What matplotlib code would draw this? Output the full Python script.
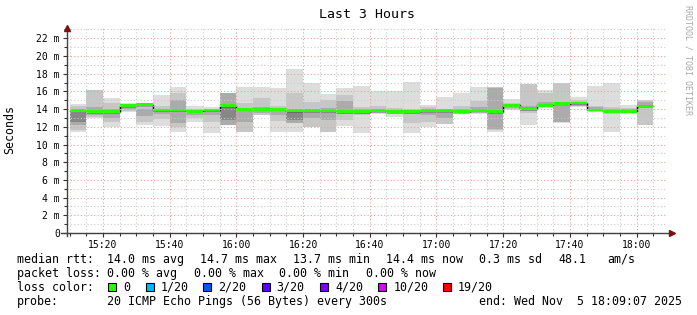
import numpy as np
import matplotlib
matplotlib.use('Agg')
import matplotlib.pyplot as plt
from matplotlib.ticker import MultipleLocator, FuncFormatter

# Данные: 5-минутные интервалы, начало первого интервала 15:10
t_first = 15 * 60 + 10  # минуты от полуночи
step = 5
# задержка, мс: мин/макс (светлый дым), средняя полоса, внутренняя полоса, медиана
rtt_min = [11.45, 13.0, 12.0, 13.7, 12.2, 12.1, 11.45, 12.6, 11.3, 12.2, 11.45, 13.3, 11.45, 11.45, 12.0,
           11.45, 12.1, 11.3, 13.5, 13.1, 11.3, 12.0, 12.3, 13.5, 13.5, 11.45, 13.9, 12.2, 14.1, 12.4,
           14.2, 13.9, 11.45, 13.45, 12.2]
rtt_max = [14.6, 16.2, 15.3, 14.7, 14.7, 15.6, 16.5, 14.35, 14.2, 15.8, 16.5, 16.5, 16.35, 18.5, 16.9,
           15.7, 16.35, 16.6, 16.0, 16.1, 17.1, 14.45, 15.4, 15.85, 16.5, 16.5, 15.1, 16.8, 16.2, 16.9,
           15.4, 16.6, 17.0, 14.45, 15.0]
mid_lo = [11.6, 13.1, 12.6, 13.8, 12.6, 12.9, 12.0, 13.0, 12.5, 12.2, 11.45, 13.3, 12.7, 12.4, 12.0,
          11.45, 12.8, 13.3, 13.6, 13.5, 12.4, 12.6, 12.3, 13.7, 13.8, 11.6, 14.0, 13.6, 14.2, 12.6,
          14.3, 14.0, 13.5, 13.6, 12.2]
mid_hi = [14.3, 16.2, 14.65, 14.5, 14.3, 14.4, 15.8, 14.0, 13.8, 15.8, 14.65, 15.3, 14.4, 15.8, 14.85,
          15.0, 15.6, 14.2, 14.3, 14.1, 14.0, 14.2, 14.0, 14.3, 14.9, 16.5, 14.7, 16.8, 15.8, 16.9,
          15.0, 14.3, 14.2, 14.1, 15.0]
in_lo = [12.2, 13.3, 13.0, 14.0, 13.2, 13.5, 12.4, 13.3, 13.3, 12.2, 12.5, 13.6, 13.3, 12.4, 13.0,
         12.8, 13.5, 13.5, 13.7, 13.6, 13.5, 13.3, 13.0, 13.8, 13.8, 11.8, 14.1, 13.8, 14.3, 12.6,
         14.4, 14.0, 13.6, 13.7, 14.3]
in_hi = [13.8, 14.2, 14.0, 14.4, 14.0, 14.0, 15.0, 13.8, 13.8, 15.8, 14.0, 14.2, 14.0, 13.9, 14.0,
         14.1, 14.9, 14.0, 14.0, 13.9, 13.9, 14.0, 13.9, 14.0, 14.2, 16.4, 14.5, 14.3, 14.8, 14.3,
         14.8, 14.2, 14.0, 14.0, 14.8]
# самое тёмное ядро (есть не у всех интервалов)
core_lo = [12.5, np.nan, np.nan, np.nan, np.nan, np.nan, np.nan, np.nan, np.nan, 12.8, np.nan, np.nan,
           np.nan, 12.8, np.nan, np.nan, np.nan, np.nan, np.nan, np.nan, np.nan, np.nan, np.nan, np.nan,
           np.nan, np.nan, np.nan, np.nan, np.nan, np.nan, np.nan, np.nan, np.nan, np.nan, np.nan]
core_hi = [13.6, np.nan, np.nan, np.nan, np.nan, np.nan, np.nan, np.nan, np.nan, 14.3, np.nan, np.nan,
           np.nan, 13.7, np.nan, np.nan, np.nan, np.nan, np.nan, np.nan, np.nan, np.nan, np.nan, np.nan,
           np.nan, np.nan, np.nan, np.nan, np.nan, np.nan, np.nan, np.nan, np.nan, np.nan, np.nan]
median = [13.8, 13.7, 13.7, 14.4, 14.5, 13.9, 13.9, 13.75, 13.9, 14.4, 14.0, 14.0, 14.0, 13.8, 13.8,
          13.8, 13.7, 13.7, 13.8, 13.7, 13.7, 13.8, 13.8, 13.7, 13.8, 13.7, 14.45, 14.05, 14.45, 14.6,
          14.7, 13.9, 13.75, 13.75, 14.35]

# Легенда
loss_labels = ['0', '1/20', '2/20', '3/20', '4/20', '10/20', '19/20']
loss_colors = ['#26ff00', '#00b8ff', '#0059ff', '#5e00ff', '#7e00ff', '#dd00ff', '#ff0000']

W, H = 697, 315
plt.rcParams['font.family'] = ['DejaVu Sans Mono', 'DejaVu Sans']
fig = plt.figure(figsize=(W / 100, H / 100), dpi=100)
fig.patch.set_facecolor('white')

# пиксели -> доли фигуры
def fx(px): return px / W
def fy(py): return 1 - py / H

x_left, x_right, y_bot, y_top = 66.7, 667.0, 233.0, 27.7
ax = fig.add_axes([fx(x_left), fy(y_bot), fx(x_right - x_left), (y_bot - y_top) / H])

t_start = 15 * 60 + 9 + 7 / 60
t_end = t_start + 180
starts = t_first + step * np.arange(len(median))
med = np.array(median)

# дым
bands = [(rtt_min, rtt_max, '#dddddd'), (mid_lo, mid_hi, '#c6c6c6'), (in_lo, in_hi, '#ababab'),
         (core_lo, core_hi, '#878787')]
for lo, hi, c in bands:
    lo = np.array(lo); hi = np.array(hi)
    ok = ~np.isnan(lo)
    ax.bar(starts[ok], hi[ok] - lo[ok], bottom=lo[ok], width=step, align='edge',
           color=c, linewidth=0, zorder=1)
# медиана
ax.step(np.append(starts, starts[-1] + step), np.append(med, med[-1]), where='post',
        color='black', linewidth=1, zorder=1.5)
ax.bar(starts, 0.32, bottom=med - 0.16, width=step, align='edge', color=loss_colors[0],
       linewidth=0, zorder=2)

ax.set_xlim(t_start, t_end)
ax.set_ylim(0, 23.2)

# сетка
ax.xaxis.set_major_locator(MultipleLocator(20))
ax.xaxis.set_minor_locator(MultipleLocator(5))
ax.yaxis.set_major_locator(MultipleLocator(2))
ax.yaxis.set_minor_locator(MultipleLocator(1))
ax.xaxis.set_major_formatter(FuncFormatter(lambda v, p: '%d:%02d' % (int(v) // 60, int(v) % 60)))
ax.yaxis.set_major_formatter(FuncFormatter(lambda v, p: '0' if v == 0 else '%d m' % v))
ax.set_axisbelow(False)
ax.grid(which='minor', color='#cccccc', linestyle=(0, (1, 2)), linewidth=0.8)
ax.grid(which='major', color='#e8a0a0', linestyle=(0, (1, 2)), linewidth=0.8)
ax.tick_params(which='both', labelsize=7, colors='#303030', direction='out')
ax.tick_params(which='major', length=3, width=0.8, pad=2)
ax.tick_params(which='minor', length=2, width=0.8)
ax.tick_params(axis='x', labelcolor='black')
ax.tick_params(axis='y', labelcolor='black')
for s in ax.spines.values():
    s.set_visible(False)

# оси со стрелками
ax.plot([0, 0], [-0.015, 1.0], transform=ax.transAxes, color='#404040', lw=1, clip_on=False, zorder=5)
ax.plot([-0.009, 1.005], [0, 0], transform=ax.transAxes, color='#404040', lw=1, clip_on=False, zorder=5)
ax.plot([0], [1.0], transform=ax.transAxes, marker='^', ms=4, color='#7f1010', clip_on=False, zorder=6)
ax.plot([1.008], [0], transform=ax.transAxes, marker='>', ms=4, color='#7f1010', clip_on=False, zorder=6)

fig.text(fx(366.5), fy(14), 'Last 3 Hours', fontsize=9.5, ha='center', va='center')
fig.text(fx(10), fy(130), 'Seconds', fontsize=8.4, rotation=90, ha='center', va='center')
fig.text(fx(688), fy(5), 'RRDTOOL / TOBI OETIKER', fontsize=6, rotation=270, ha='center', va='top',
         color='#aaaaaa')

fs = 8.4
y1, y2, y3, y4 = 259.3, 273.3, 287.3, 301.3
for x, s in [(16.7, 'median rtt:'), (107.3, '14.0 ms avg'), (200, '14.7 ms max'), (293, '13.7 ms min'),
             (386, '14.4 ms now'), (479.3, '0.3 ms sd'), (558.3, '48.1'), (607.7, 'am/s')]:
    fig.text(fx(x), fy(y1), s, fontsize=fs, va='center')
for x, s in [(16.7, 'packet loss:'), (107.3, '0.00 % avg'), (194, '0.00 % max'), (279.3, '0.00 % min'),
             (366, '0.00 % now')]:
    fig.text(fx(x), fy(y2), s, fontsize=fs, va='center')
fig.text(fx(16.7), fy(y3), 'loss color:', fontsize=fs, va='center')
sq_x = [108.3, 145.7, 203.3, 261.7, 320, 378.3, 442.7]
for x, lab, c in zip(sq_x, loss_labels, loss_colors):
    fig.patches.append(plt.Rectangle((fx(x), fy(y3 + 4)), 8 / W, 8 / H, transform=fig.transFigure,
                                     facecolor=c, edgecolor='black', linewidth=0.8))
    fig.text(fx(x + 15), fy(y3), lab, fontsize=fs, va='center')
fig.text(fx(16.7), fy(y4), 'probe:', fontsize=fs, va='center')
fig.text(fx(107.3), fy(y4), '20 ICMP Echo Pings (56 Bytes) every 300s', fontsize=fs, va='center')
fig.text(fx(479.3), fy(y4), 'end: Wed Nov  5 18:09:07 2025', fontsize=fs, va='center')

fig.savefig('out.png', dpi=100, facecolor='white')
